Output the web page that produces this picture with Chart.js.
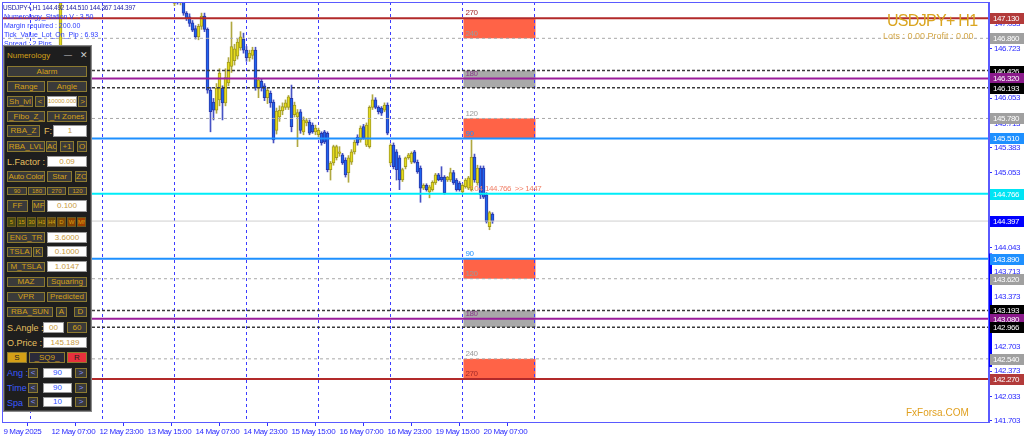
<!DOCTYPE html>
<html>
<head>
<meta charset="utf-8">
<script src="https://cdn.jsdelivr.net/npm/chart.js@4.4.1/dist/chart.umd.min.js"></script>
<style>
  body { margin: 0; background: #fff; }
  #wrap { position: relative; width: 1024px; height: 439px; overflow: hidden; }
  #c { position: absolute; left: 0; top: 0; }
  .t { position: absolute; white-space: nowrap; font: 7px 'Liberation Sans', Arial, sans-serif; line-height: 8px; }
  #panel { position: absolute; left: 3px; top: 45px; width: 87px; height: 365px; background: #1e1e1e; border: 1px solid #8a8a8a; box-shadow: inset 0 0 0 1px #444; }
  .b { position: absolute; box-sizing: border-box; border: 1px solid #8c7a30; background: #3a3a3a; color: #d4a017;
       font: 8px 'Liberation Sans', Arial, sans-serif; text-align: center; white-space: nowrap; overflow: hidden; }
  .in { background: #fff; border: 1px solid #9a9a9a; color: #c89a40; }
  .lb { position: absolute; white-space: nowrap; font: 9px 'Liberation Sans', Arial, sans-serif; color: #e8c060; }
</style>
</head>
<body>
<div id="wrap">
  <canvas id="c" width="1024" height="439"></canvas>
</div>
<script>
// ---- data -------------------------------------------------------------
// H1 bars, numbered from 9 May 2025 15:00 (bar 0)
const opens  = [146.10,
  147.42,147.33,147.37,147.34,147.36,147.20,147.15,147.07,146.99,146.88,147.02,147.16,146.98,146.16,146.00,145.89,146.03,146.19,145.99,146.26,
  146.48,146.56,146.62,146.73,146.85,146.70,146.60,146.63,146.70,146.19,146.28,146.22,146.06,146.12,146.00,145.62,145.80,145.88,145.93,145.93,
  146.05,145.83,145.80,145.87,145.60,145.72,145.73,145.69,145.60,145.56,145.58,145.60,145.58,145.09,145.18,145.25,145.31,145.29,145.22,145.05,
  145.19,145.33,145.53,145.49,145.67,145.42,145.40,145.93,146.03,145.93,145.92,145.89,145.96,145.18,145.42,145.33,145.25,144.95,145.13,145.25,
  145.19,145.33,145.19,145.11,144.84,144.88,144.79,144.82,144.91,145.02,144.99,144.99,144.95,144.95,145.05,144.95,144.91,144.79,144.86,144.84,
  144.82,145.26,144.91,145.11,145.11,144.75,144.32,144.492];
const highs  = [147.90,
  147.50,147.40,147.42,147.39,147.40,147.22,147.19,147.10,147.03,147.05,147.20,147.20,147.00,146.20,146.05,146.25,146.45,146.22,146.45,146.60,
  147.08,146.78,146.85,146.95,146.93,146.75,146.70,146.74,146.74,146.33,146.32,146.25,146.19,146.15,146.03,145.92,145.95,145.99,146.03,146.09,
  146.23,146.00,145.90,145.90,145.80,145.78,145.76,145.72,145.69,145.65,145.60,145.62,145.60,145.20,145.42,145.42,145.40,145.31,145.25,145.28,
  145.36,145.49,145.56,145.68,145.70,145.72,145.95,146.10,146.06,145.95,145.94,145.99,145.99,145.44,145.45,145.36,145.28,145.11,145.26,145.31,
  145.33,145.35,145.22,145.14,144.90,144.90,144.88,144.94,145.04,145.04,145.13,145.01,145.00,145.11,145.08,144.97,144.93,144.90,144.97,145.00,
  145.49,145.30,145.15,145.14,145.14,144.78,144.53,144.510];
const lows   = [146.05,
  147.35,147.30,147.32,147.31,147.17,147.10,147.02,146.95,146.85,146.84,146.98,146.95,146.12,145.60,145.76,145.85,145.95,145.76,145.95,146.22,
  146.40,146.50,146.58,146.70,146.66,146.55,146.55,146.58,146.16,146.06,146.15,146.02,145.98,145.93,145.45,145.57,145.74,145.83,145.90,145.90,
  145.60,145.80,145.40,145.58,145.56,145.68,145.56,145.58,145.56,145.53,145.42,145.44,145.06,144.95,145.15,145.22,145.27,145.16,144.99,144.92,
  145.16,145.30,145.42,145.46,145.50,145.40,145.38,145.90,145.91,145.84,145.82,145.87,145.56,145.15,145.10,144.95,144.82,144.93,145.10,145.23,
  145.17,145.18,145.04,144.65,144.82,144.80,144.71,144.80,144.89,144.94,144.93,144.76,144.93,144.93,144.89,144.80,144.80,144.76,144.84,144.82,
  144.80,144.92,144.88,144.70,144.70,144.37,144.28,144.367];
const closes = [147.85,
  147.38,147.37,147.35,147.37,147.20,147.13,147.06,146.97,146.88,147.02,147.16,146.98,146.16,145.87,145.89,146.19,146.39,145.99,146.33,146.54,
  146.75,146.72,146.81,146.88,146.70,146.60,146.66,146.70,146.19,146.30,146.19,146.06,146.16,145.99,145.49,145.88,145.89,145.94,145.99,146.07,
  145.67,145.96,145.86,145.62,145.76,145.75,145.58,145.60,145.65,145.62,145.45,145.46,145.09,145.18,145.40,145.40,145.33,145.18,145.02,145.25,
  145.33,145.46,145.45,145.65,145.52,145.69,145.93,146.03,145.93,145.87,145.85,145.96,145.58,145.42,145.13,145.09,144.95,145.09,145.25,145.29,
  145.31,145.19,145.06,144.84,144.88,144.82,144.86,144.92,145.02,144.95,144.95,144.78,144.99,145.05,144.91,144.82,144.82,144.88,144.95,144.98,
  145.26,144.95,145.11,144.75,144.72,144.39,144.51,144.397];
const firstBar = 56;   // bars after the lone bar 19 run 56, 57, ...
const barNo = [19].concat(opens.slice(1).map((_, k) => firstBar + k));

const xTickBars   = [0, 16, 32, 48, 64, 80, 96, 112, 128, 144, 160];
const xTickLabels = ['9 May 2025', '12 May 07:00', '12 May 23:00', '13 May 15:00', '14 May 07:00', '14 May 23:00',
                     '15 May 15:00', '16 May 07:00', '16 May 23:00', '19 May 15:00', '20 May 07:00'];
const daySeparators = [9, 33, 57, 81, 105, 129, 153, 177];

const yTickValues = [147.053, 146.723, 146.053, 145.713, 145.383, 145.053, 144.713, 144.043, 143.713,
                     143.373, 142.703, 142.373, 142.033, 141.703];

const levelPrices = [147.130, 146.860, 146.426, 146.320, 146.193, 145.780, 145.510, 144.766,
                     144.397, 143.890, 143.620, 143.193, 143.080, 142.966, 142.540, 142.270];
const levelKinds  = ['red', 'gray', 'dark', 'purple', 'dark', 'gray', 'blue', 'cyan',
                     'last', 'blue', 'gray', 'dark', 'purple', 'dark', 'gray', 'red'];

const zoneTop    = [147.130, 146.426, 145.780, 143.890, 143.193, 142.540];
const zoneBottom = [146.860, 146.193, 145.510, 143.620, 142.966, 142.270];
const zoneKinds  = ['hot', 'mid', 'hot', 'hot', 'mid', 'hot'];
const zoneFrom = 153.33, zoneTo = 177.33;

const angleLabels = ['270', '240', '180', '120', '90', '90', '120', '180', '240', '270'];
const anglePrices = [147.130, 146.860, 146.320, 145.780, 145.510, 143.890, 143.620, 143.080, 142.540, 142.270];

const axisBand = [143.96, 142.43];

// ---- styles ------------------------------------------------------------
const FONT = "'Liberation Sans', Arial, sans-serif";
const lineStyle = {
  red:    { color: '#b22a2a', width: 2,   dash: [],     box: '#b23a3a' },
  gray:   { color: '#a8a8a8', width: 1,   dash: [3, 3], box: '#a0a0a0' },
  dark:   { color: '#3a3a3a', width: 1.5, dash: [3, 2], box: '#000000' },
  purple: { color: '#9a1e9a', width: 2,   dash: [],     box: '#8b1a8b' },
  blue:   { color: '#1e90ff', width: 2,   dash: [],     box: '#1e90ff' },
  cyan:   { color: '#00ecf8', width: 2,   dash: [],     box: '#00e4f4' },
  last:   { color: '#cfcfcf', width: 1,   dash: [],     box: '#0000ff' }
};
const xMin = -0.5, xMax = 328.5;
const yMin = 141.689, yMax = 147.3495;

const bull = barNo.map((_, k) => closes[k] >= opens[k]);

const levelSets = levelPrices.map((p, k) => {
  const s = lineStyle[levelKinds[k]];
  return {
    type: 'line', data: [{ x: xMin, y: p }, { x: xMax, y: p }],
    borderColor: s.color, borderWidth: s.width, borderDash: s.dash,
    pointRadius: 0, order: 0
  };
});

const bodies = {
  data: barNo.map((b, k) => ({ x: b, y: [opens[k], closes[k]] })),
  backgroundColor: bull.map(u => u ? '#e6dc1e' : '#1e64ee'),
  borderColor: bull.map(u => u ? '#a09a20' : '#2a36a8'),
  borderWidth: 1, borderSkipped: false,
  barThickness: 3, grouped: false, order: 1
};
const wicks = {
  data: barNo.map((b, k) => ({ x: b, y: [lows[k], highs[k]] })),
  backgroundColor: bull.map(u => u ? '#b0a840' : '#4652c4'),
  barThickness: 1, grouped: false, order: 2
};

const overlay = {
  id: 'overlay',
  beforeDraw(chart) {
    chart.ctx.letterSpacing = '-0.4px';   // narrow MT4-like labels
  },
  beforeDatasetsDraw(chart) {
    const { ctx, chartArea: a, scales: { x, y } } = chart;
    ctx.save();
    const x1 = x.getPixelForValue(zoneFrom), x2 = x.getPixelForValue(zoneTo);
    zoneTop.forEach((t, k) => {
      const y1 = y.getPixelForValue(t), y2 = y.getPixelForValue(zoneBottom[k]);
      ctx.fillStyle = zoneKinds[k] === 'hot' ? '#ff6347' : '#a9a9a9';
      ctx.fillRect(x1, y1, x2 - x1, y2 - y1);
    });
    ctx.strokeStyle = '#3c3cff';
    ctx.lineWidth = 1;
    ctx.setLineDash([3, 3]);
    daySeparators.forEach(b => {
      const px = Math.floor(x.getPixelForValue(b)) + 0.5;
      ctx.beginPath(); ctx.moveTo(px, a.top); ctx.lineTo(px, a.bottom); ctx.stroke();
    });
    ctx.restore();
  },
  afterDatasetsDraw(chart) {
    const { ctx, scales: { x, y } } = chart;
    ctx.save();
    ctx.font = '8px ' + FONT;
    ctx.textBaseline = 'bottom';
    const lx = x.getPixelForValue(zoneFrom) + 2;
    const colorOf = { '270': '#a52a2a', '240': '#9a9a9a', '180': '#8b3a8b', '120': '#9a9a9a', '90': '#1e90ff' };
    angleLabels.forEach((t, k) => {
      ctx.fillStyle = colorOf[t];
      ctx.fillText(t, lx, y.getPixelForValue(anglePrices[k]) - 1);
    });
    ctx.fillStyle = '#f08068';
    ctx.fillText('7.04', x.getPixelForValue(155), y.getPixelForValue(144.766) - 1);
    ctx.fillText('144.766  >> 1447', x.getPixelForValue(160.5), y.getPixelForValue(144.766) - 1);
    ctx.restore();
  },
  afterDraw(chart) {
    const { ctx, chartArea: a, scales: { y } } = chart;
    ctx.save();
    ctx.strokeStyle = '#5a5aff';
    ctx.lineWidth = 1;
    ctx.strokeRect(a.left + 0.5, a.top + 0.5, a.right - a.left - 1, a.bottom - a.top);
    ctx.fillStyle = '#0000ff';
    const b1 = y.getPixelForValue(axisBand[0]), b2 = y.getPixelForValue(axisBand[1]);
    ctx.fillRect(a.right, b1, 3, b2 - b1);
    ctx.font = '8px ' + FONT;
    ctx.textBaseline = 'middle';
    levelPrices.forEach((p, k) => {
      const s = lineStyle[levelKinds[k]];
      const py = Math.round(y.getPixelForValue(p));
      ctx.fillStyle = s.box;
      ctx.fillRect(a.right + 1, py - 5, 34, 11);
      ctx.fillStyle = '#ffffff';
      ctx.fillText(p.toFixed(3), a.right + 4, py + 0.5);
    });
    ctx.restore();
  }
};

new Chart(document.getElementById('c'), {
  type: 'bar',
  data: { datasets: levelSets.concat([bodies, wicks]) },
  options: {
    responsive: false,
    animation: false,
    layout: { padding: { left: 2, top: 2, right: 0, bottom: 0 } },
    plugins: { legend: { display: false }, tooltip: { enabled: false } },
    scales: {
      x: {
        type: 'linear', min: xMin, max: xMax, offset: false,
        grid: { drawOnChartArea: false, tickLength: 4, color: '#3030ff' },
        border: { color: '#5a5aff' },
        ticks: {
          align: 'start', autoSkip: false, maxRotation: 0, padding: 1, color: '#2a2aff',
          font: { size: 8, family: FONT },
          callback: (v, i) => xTickLabels[i]
        },
        afterBuildTicks: s => { s.ticks = xTickBars.map(v => ({ value: v })); },
        afterFit: s => { s.height = 17; s.paddingLeft = 0; s.paddingRight = 0; }
      },
      y: {
        position: 'right', min: yMin, max: yMax,
        grid: { drawOnChartArea: false, tickLength: 3, color: '#3030ff' },
        border: { color: '#5a5aff' },
        ticks: {
          autoSkip: false, padding: 2, color: '#2a2aff', font: { size: 8, family: FONT },
          callback: v => v.toFixed(3)
        },
        afterBuildTicks: s => { s.ticks = yTickValues.map(v => ({ value: v })); },
        afterFit: s => { s.width = 35; s.paddingTop = 0; s.paddingBottom = 0; }
      }
    }
  },
  plugins: [overlay]
});

// ---- text overlays and the tool panel --------------------------------
const wrap = document.getElementById('wrap');
function put(cls, text, x, y, w, h, css) {
  const d = document.createElement('div');
  d.className = cls;
  d.textContent = text;
  d.style.left = x + 'px';
  d.style.top = y + 'px';
  if (w) { d.style.width = w + 'px'; }
  if (h) { d.style.height = h + 'px'; d.style.lineHeight = (h - 2) + 'px'; }
  Object.assign(d.style, css || {});
  wrap.appendChild(d);
  return d;
}

put('t', 'USDJPY+,H1  144.492 144.510 144.367 144.397', 3, 4, 0, 0,
    { color: '#1a1aa0', fontSize: '6.5px', letterSpacing: '-0.2px' });
const headerLines = ['Numerology_Station V : 3.50', 'Margin required : 200.00',
                     'Tick_Value_Lot_On_Pip : 6.93', 'Spread : 2  Pips'];
headerLines.forEach((t, k) => put('t', t, 4, 13 + k * 9, 0, 0, { color: '#2a3aff' }));

put('t', 'USDJPY+ H1', 887, 12, 0, 0, { font: "16px " + FONT, color: '#daa520', lineHeight: '17px', letterSpacing: '-0.7px' });
put('t', 'Lots : 0.00 Profit : 0.00', 883, 31, 0, 0, { font: "9px " + FONT, color: '#d4a84a', lineHeight: '10px' });
put('t', 'FxForsa.COM', 906, 407, 0, 0, { font: "10px " + FONT, color: '#e0a020', lineHeight: '11px' });

const panel = document.createElement('div');
panel.id = 'panel';
wrap.appendChild(panel);

put('lb', 'Numerology', 7, 51, 0, 0, { fontSize: '8px', color: '#d4a017' });
put('lb', '\u2014', 64, 50, 0, 0, { color: '#cfcfcf', fontSize: '8px' });
put('lb', '\u2715', 80, 50, 0, 0, { color: '#cfcfcf', fontSize: '9px' });

const B = 'b', I = 'b in';
const items = [
  [B, 'Alarm', 7, 66, 80, 11],
  [B, 'Range', 7, 81, 38, 11], [B, 'Angle', 47, 81, 40, 11],
  [B, 'Sh_lvl', 7, 96, 26, 11], [B, '<', 35, 96, 10, 11], [I, '10000.000', 47, 96, 30, 11, { fontSize: '6px' }], [B, '>', 78, 96, 9, 11],
  [B, '_Fibo_Z_', 7, 111, 38, 11], [B, '_H Zones', 47, 111, 40, 11],
  [B, 'RBA_Z', 7, 125, 33, 12], [I, '1', 53, 125, 34, 12],
  [B, 'RBA_LVL', 7, 141, 38, 11], [B, 'AC', 46, 141, 11, 11], [B, '+1', 60, 141, 14, 11], [B, 'O', 77, 141, 10, 11],
  [I, '0.09', 47, 156, 40, 11],
  [B, 'Auto Color', 7, 171, 38, 11, { letterSpacing: '-0.3px' }], [B, 'Star', 47, 171, 25, 11], [B, 'ZC', 75, 171, 12, 11],
  [B, '90', 7, 187, 20, 8, { fontSize: '6px' }], [B, '180', 28, 187, 18, 8, { fontSize: '6px' }],
  [B, '270', 47, 187, 19, 8, { fontSize: '6px' }], [B, '120', 68, 187, 19, 8, { fontSize: '6px' }],
  [B, 'FF', 7, 200, 21, 12], [B, 'MF', 32, 200, 13, 12], [I, '0.100', 47, 200, 40, 12],
  [B, 'ENG_TR', 7, 232, 38, 11], [I, '3.6000', 47, 232, 40, 11],
  [B, 'TSLA', 7, 247, 25, 10], [B, 'K', 33, 247, 10, 10], [I, '0.1000', 47, 246, 40, 11],
  [B, 'M_TSLA', 7, 262, 38, 10], [I, '1.0147', 47, 261, 40, 11],
  [B, 'MAZ', 7, 277, 38, 10], [B, 'Squaring', 47, 277, 40, 10],
  [B, 'VPR', 7, 292, 38, 10], [B, 'Predicted', 47, 292, 40, 10],
  [B, 'RBA_SUN', 7, 307, 46, 10], [B, 'A', 56, 307, 11, 10], [B, 'D', 74, 307, 13, 10],
  [I, '00', 43, 322, 21, 11], [B, '60', 67, 322, 20, 11],
  [I, '145.189', 43, 337, 44, 11],
  [B, 'S', 7, 352, 20, 11, { background: '#d4a017', color: '#222' }],
  [B, '_SQ9_', 29, 352, 36, 11, { background: '#2a2a3a' }],
  [B, 'R', 67, 352, 20, 11, { background: '#e8303c', color: '#222' }],
  [B, '<', 28, 368, 10, 10, { color: '#8090ff' }], [I, '90', 43, 368, 29, 10, { color: '#3050ff' }], [B, '>', 75, 368, 12, 10, { color: '#8090ff' }],
  [B, '<', 28, 383, 10, 10, { color: '#8090ff' }], [I, '90', 43, 383, 29, 10, { color: '#3050ff' }], [B, '>', 75, 383, 12, 10, { color: '#8090ff' }],
  [B, '<', 28, 397, 10, 10, { color: '#8090ff' }], [I, '10', 43, 397, 29, 10, { color: '#3050ff' }], [B, '>', 75, 397, 12, 10, { color: '#8090ff' }]
];
items.forEach(it => put(it[0], it[1], it[2], it[3], it[4], it[5], it[6]));

const tfNames = ['5', '15', '30', 'H1', 'H4', 'D', 'W', 'MN'];
const tfColors = ['#4a4a12', '#4a4a12', '#4a4a12', '#55480f', '#6a4a0c', '#7a4806', '#8a4202', '#a04000'];
tfNames.forEach((t, k) => put('b', t, 7 + k * 10, 217, 9, 10, { fontSize: '6px', background: tfColors[k], borderColor: '#6a5a20' }));

put('lb', 'F:', 44, 126, 0, 0, { color: '#e8c060' });
put('lb', 'L.Factor :', 7, 157, 0, 0);
put('lb', 'S.Angle :', 7, 323, 0, 0);
put('lb', 'O.Price :', 7, 338, 0, 0);
put('lb', 'Ang :', 7, 368, 0, 0, { color: '#3a5aff' });
put('lb', 'Time', 7, 383, 0, 0, { color: '#3a5aff' });
put('lb', 'Spa', 7, 398, 0, 0, { color: '#3a5aff' });
</script>
</body>
</html>
